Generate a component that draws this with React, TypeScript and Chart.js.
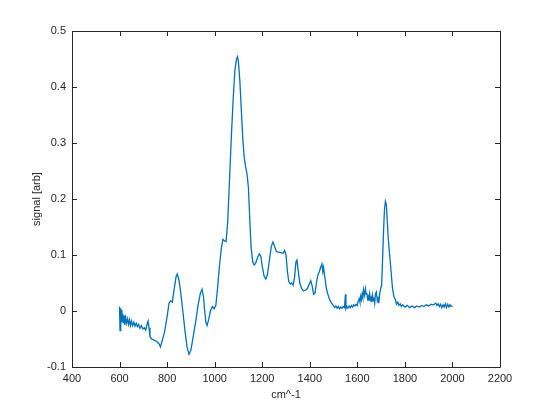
import React, { useEffect, useRef } from "react";
import { Chart, registerables } from "chart.js";

Chart.register(...registerables);

const wavenumbers: number[] = [
  600, 602, 604, 606, 608, 610, 613, 616, 619, 622, 626, 630, 634, 638, 642, 646, 650, 655, 660, 665,
  670, 675, 680, 686, 692, 698, 704, 710, 715, 720, 724, 728, 735, 745, 755, 765, 772, 780, 790, 800,
  808, 815, 822, 830, 838, 843, 850, 858, 866, 875, 884, 892, 900, 910, 920, 930, 940, 947, 953, 958,
  963, 968, 975, 982, 990, 998, 1005, 1012, 1020, 1028, 1035, 1042, 1048, 1055, 1062, 1070, 1078, 1085, 1092, 1096,
  1100, 1106, 1112, 1118, 1124, 1130, 1136, 1142, 1148, 1153, 1160, 1166, 1172, 1180, 1188, 1194, 1200, 1208, 1215, 1222,
  1230, 1238, 1245, 1252, 1260, 1270, 1280, 1288, 1294, 1300, 1306, 1312, 1318, 1324, 1330, 1336, 1342, 1346, 1352, 1358,
  1366, 1374, 1382, 1390, 1398, 1404, 1410, 1416, 1422, 1428, 1434, 1440, 1446, 1451, 1455, 1458, 1464, 1470, 1476, 1482,
  1490, 1495, 1500, 1505, 1510, 1515, 1520, 1525, 1530, 1535, 1540, 1546, 1550, 1552, 1556, 1560, 1565, 1570, 1575, 1580,
  1585, 1590, 1595, 1600, 1604, 1608, 1611, 1614, 1617, 1620, 1623, 1626, 1630, 1634, 1637, 1640, 1643, 1646, 1649, 1652,
  1655, 1658, 1661, 1664, 1667, 1670, 1673, 1676, 1680, 1684, 1687, 1690, 1694, 1698, 1702, 1706, 1710, 1714, 1718, 1722,
  1726, 1730, 1736, 1742, 1748, 1754, 1760, 1765, 1770, 1775, 1780, 1785, 1790, 1800, 1810, 1820, 1830, 1840, 1850, 1860,
  1870, 1880, 1890, 1900, 1910, 1920, 1930, 1935, 1940, 1945, 1950, 1955, 1960, 1965, 1970, 1975, 1980, 1985, 1990, 1995,
  2000,
];

const signal: number[] = [
  0.008, -0.035, 0.005, -0.025, 0.002, -0.02, -0.005, -0.022, -0.008, -0.025, -0.012, -0.022, -0.014, -0.024, -0.016, -0.026, -0.018, -0.026, -0.02, -0.027,
  -0.022, -0.028, -0.024, -0.031, -0.026, -0.032, -0.03, -0.034, -0.025, -0.018, -0.03, -0.046, -0.05, -0.052, -0.054, -0.058, -0.064, -0.052, -0.036, -0.01,
  0.014, 0.018, 0.016, 0.04, 0.062, 0.066, 0.055, 0.03, 0.0, -0.035, -0.065, -0.077, -0.07, -0.045, -0.02, 0.01, 0.032, 0.039, 0.025, 0.0,
  -0.02, -0.026, -0.015, 0.0, 0.008, 0.004, 0.01, 0.04, 0.08, 0.112, 0.128, 0.125, 0.124, 0.16, 0.23, 0.31, 0.38, 0.43, 0.45, 0.454,
  0.445, 0.41, 0.36, 0.31, 0.275, 0.258, 0.245, 0.22, 0.16, 0.115, 0.088, 0.082, 0.085, 0.095, 0.102, 0.098, 0.08, 0.062, 0.057, 0.065,
  0.09, 0.115, 0.123, 0.115, 0.106, 0.105, 0.104, 0.103, 0.108, 0.1, 0.07, 0.052, 0.048, 0.05, 0.046, 0.06, 0.088, 0.091, 0.07, 0.05,
  0.04, 0.036, 0.037, 0.04, 0.048, 0.054, 0.045, 0.03, 0.032, 0.05, 0.064, 0.07, 0.078, 0.084, 0.07, 0.078, 0.058, 0.04, 0.03, 0.022,
  0.015, 0.012, 0.009, 0.006, 0.009, 0.005, 0.008, 0.004, 0.007, 0.005, 0.008, 0.006, 0.03, 0.004, 0.008, 0.005, 0.009, 0.006, 0.01, 0.007,
  0.011, 0.009, 0.012, 0.01, 0.018, 0.022, 0.016, 0.026, 0.02, 0.03, 0.024, 0.038, 0.028, 0.04, 0.03, 0.032, 0.022, 0.026, 0.018, 0.03,
  0.02, 0.024, 0.016, 0.028, 0.018, 0.024, 0.014, 0.03, 0.034, 0.018, 0.022, 0.014, 0.03, 0.04, 0.045, 0.09, 0.14, 0.18, 0.196, 0.19,
  0.16, 0.13, 0.1, 0.07, 0.04, 0.026, 0.02, 0.012, 0.016, 0.01, 0.013, 0.008, 0.011, 0.007, 0.01, 0.006, 0.009, 0.006, 0.009, 0.007,
  0.01, 0.008, 0.011, 0.009, 0.012, 0.011, 0.014, 0.01, 0.013, 0.008, 0.012, 0.006, 0.011, 0.007, 0.013, 0.006, 0.012, 0.007, 0.011, 0.008,
  0.009,
];

const xTicks: number[] = [400, 600, 800, 1000, 1200, 1400, 1600, 1800, 2000, 2200];
const yTicks: number[] = [-0.1, 0, 0.1, 0.2, 0.3, 0.4, 0.5];
const xTitle = "cm^-1";
const yTitle = "signal [arb]";

const AXIS_COLOR = "#262626";
const FONT = "'Liberation Sans', Arial, Helvetica, sans-serif";

export default function App() {
  const ref = useRef<HTMLCanvasElement | null>(null);

  useEffect(() => {
    if (!ref.current) return;
    const boxPlugin = {
      id: "matlabBox",
      afterDraw(chart: any) {
        const { ctx, chartArea } = chart;
        const { left, right, top, bottom } = chartArea;
        const xs = chart.scales.x;
        const ys = chart.scales.y;
        ctx.save();
        ctx.strokeStyle = AXIS_COLOR;
        ctx.lineWidth = 1;
        ctx.beginPath();
        ctx.rect(Math.round(left) + 0.5, Math.round(top) + 0.5, Math.round(right - left), Math.round(bottom - top));
        ctx.stroke();
        const tl = 5;
        ctx.beginPath();
        for (const v of xTicks) {
          const px = Math.round(xs.getPixelForValue(v)) + 0.5;
          ctx.moveTo(px, bottom);
          ctx.lineTo(px, bottom - tl);
          ctx.moveTo(px, top);
          ctx.lineTo(px, top + tl);
        }
        for (const v of yTicks) {
          const py = Math.round(ys.getPixelForValue(v)) + 0.5;
          ctx.moveTo(left, py);
          ctx.lineTo(left + tl, py);
          ctx.moveTo(right, py);
          ctx.lineTo(right - tl, py);
        }
        ctx.stroke();
        ctx.fillStyle = AXIS_COLOR;
        ctx.font = `11px ${FONT}`;
        ctx.textAlign = "center";
        ctx.textBaseline = "middle";
        ctx.fillText(xTitle, (left + right) / 2, 395);
        ctx.translate(37, (top + bottom) / 2);
        ctx.rotate(-Math.PI / 2);
        ctx.fillText(yTitle, 0, 0);
        ctx.restore();
      },
    };

    const chart = new Chart(ref.current, {
      type: "line",
      data: {
        datasets: [
          {
            data: wavenumbers.map((w, i) => ({ x: w, y: signal[i] })),
            borderColor: "#0072BD",
            borderWidth: 1.3,
            pointRadius: 0,
            tension: 0,
            fill: false,
          },
        ],
      },
      options: {
        responsive: false,
        animation: false,
        layout: { padding: { top: 31, right: 51, left: 0, bottom: 0 } },
        plugins: { legend: { display: false }, tooltip: { enabled: false } },
        scales: {
          x: {
            type: "linear",
            min: 400,
            max: 2200,
            grid: { display: false, drawTicks: false },
            border: { display: false },
            afterBuildTicks: (s: any) => {
              s.ticks = xTicks.map((v) => ({ value: v }));
            },
            afterFit: (s: any) => {
              s.height = 46;
            },
            ticks: {
              color: AXIS_COLOR,
              font: { size: 11, family: FONT },
              padding: 5,
              maxRotation: 0,
              autoSkip: false,
              callback: (v: any) => String(v),
            },
          },
          y: {
            type: "linear",
            min: -0.1,
            max: 0.5,
            grid: { display: false, drawTicks: false },
            border: { display: false },
            afterBuildTicks: (s: any) => {
              s.ticks = yTicks.map((v) => ({ value: v }));
            },
            afterFit: (s: any) => {
              s.width = 72;
            },
            ticks: {
              color: AXIS_COLOR,
              font: { size: 11, family: FONT },
              padding: 6,
              autoSkip: false,
              callback: (v: any) => String(Number(Number(v).toFixed(1))),
            },
          },
        },
      },
      plugins: [boxPlugin],
    });
    return () => chart.destroy();
  }, []);

  return (
    <div style={{ position: "absolute", left: 0, top: 0, width: 551, height: 413, background: "#fff" }}>
      <canvas ref={ref} width={551} height={413} style={{ display: "block" }} />
    </div>
  );
}
